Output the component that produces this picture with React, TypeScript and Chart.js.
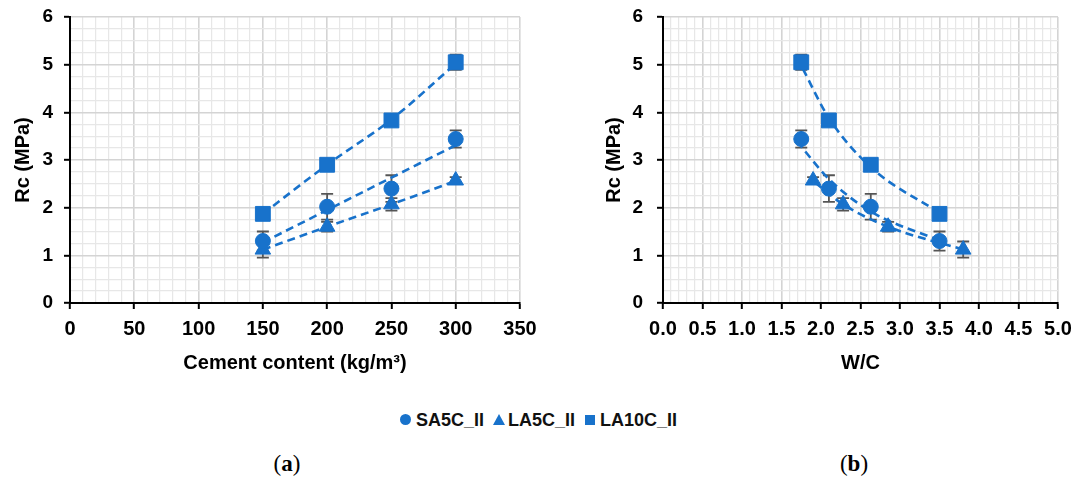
import React, { useEffect, useRef } from 'react';
import { Chart, registerables } from 'chart.js';

Chart.register(...registerables);

// ---- data ----
const cement = [150, 200, 250, 300];
const wcSA5C = [3.5, 2.63, 2.1, 1.75];
const wcLA5C = [3.8, 2.85, 2.28, 1.9];
const wcLA10C = [3.5, 2.63, 2.1, 1.75];

const rcSA5C = [1.3, 2.02, 2.4, 3.44];
const rcLA5C = [1.12, 1.6, 2.07, 2.57];
const rcLA10C = [1.87, 2.9, 3.83, 5.05];

const errSA5C = [0.2, 0.27, 0.28, 0.18];
const errLA5C = [0.17, 0.1, 0.13, 0.07];
const errLA10C = [0.08, 0.06, 0.06, 0.16];

// dashed trend lines
const trendSA5C_a = [1.27, 1.95, 2.63, 3.31];
const trendLA5C_a = [1.12, 1.6, 2.07, 2.56];
const trendLA10C_a = [1.87, 2.9, 3.85, 5.02];
const trendSA5C_b = [1.31, 1.92, 2.6, 3.28];
const trendLA5C_b = [1.12, 1.6, 2.07, 2.56];
const trendLA10C_b = [1.89, 2.85, 3.88, 4.98];

const seriesNames = ['SA5C_II', 'LA5C_II', 'LA10C_II'];

const xMajorA = [0, 50, 100, 150, 200, 250, 300, 350];
const xMajorB = [0, 0.5, 1, 1.5, 2, 2.5, 3, 3.5, 4, 4.5, 5];
const yMajor = [0, 1, 2, 3, 4, 5, 6];

// ---- style ----
const BLUE = '#1872cb';
const FONT = "'Liberation Sans', Arial, sans-serif";
const MAJOR = '#d4d4d4';
const MINOR = '#e7e7e7';

const near = (v: number, arr: number[]) => arr.some((m) => Math.abs(m - v) < 1e-6);
const pts = (xs: number[], ys: number[]) => xs.map((x, i) => ({ x, y: ys[i] }));

const errorBarPlugin = {
  id: 'errorBars',
  beforeDatasetsDraw(chart: any) {
    const ctx = chart.ctx;
    const ys = chart.scales.y;
    chart.data.datasets.forEach((ds: any, i: number) => {
      if (!ds.errors) return;
      const meta = chart.getDatasetMeta(i);
      ctx.save();
      ctx.strokeStyle = '#555555';
      ctx.lineWidth = 1.8;
      meta.data.forEach((pt: any, j: number) => {
        const v = ds.data[j].y;
        const e = ds.errors[j];
        const x = pt.x;
        const y1 = ys.getPixelForValue(v + e);
        const y2 = ys.getPixelForValue(v - e);
        ctx.beginPath();
        ctx.moveTo(x, y1);
        ctx.lineTo(x, y2);
        ctx.moveTo(x - 6, y1);
        ctx.lineTo(x + 6, y1);
        ctx.moveTo(x - 6, y2);
        ctx.lineTo(x + 6, y2);
        ctx.stroke();
      });
      ctx.restore();
    });
  },
};

function gridOpts(majors: number[]) {
  return {
    color: (c: any) => (c.tick && near(c.tick.value, majors) ? MAJOR : MINOR),
    lineWidth: (c: any) => (c.tick && near(c.tick.value, majors) ? 1.6 : 1.2),
    tickColor: (c: any) => (c.tick && near(c.tick.value, majors) ? '#000' : 'rgba(0,0,0,0)'),
    tickLength: 6,
    tickWidth: 2,
    drawTicks: true,
  };
}

function makeConfig(kind: 'a' | 'b') {
  const isA = kind === 'a';
  const xs = isA ? [cement, cement, cement] : [wcSA5C, wcLA5C, wcLA10C];
  const trends = isA ? [trendSA5C_a, trendLA5C_a, trendLA10C_a] : [trendSA5C_b, trendLA5C_b, trendLA10C_b];
  const vals = [rcSA5C, rcLA5C, rcLA10C];
  const errs = [errSA5C, errLA5C, errLA10C];
  const styles = ['circle', 'triangle', 'rect'];
  const radii = [7.5, 9, 10.5];

  const markerSets = vals.map((v, k) => ({
    label: seriesNames[k],
    data: pts(xs[k], v),
    errors: errs[k],
    showLine: false,
    pointStyle: styles[k],
    pointRadius: radii[k],
    pointBackgroundColor: BLUE,
    pointBorderColor: BLUE,
    pointBorderWidth: 1,
  }));
  const trendSets = trends.map((t, k) => ({
    label: seriesNames[k] + ' trend',
    data: pts(xs[k], t),
    showLine: true,
    pointRadius: 0,
    borderColor: BLUE,
    borderWidth: 2.6,
    borderDash: [8, 5],
    cubicInterpolationMode: 'monotone',
    fill: false,
  }));

  const tickFontX = { family: FONT, size: 20, weight: 'bold' };
  const tickFontY = { family: FONT, size: 19, weight: 'bold' };
  const titleFont = { family: FONT, size: 20, weight: 'bold' };
  const xMajors = isA ? xMajorA : xMajorB;

  return {
    type: 'scatter',
    data: { datasets: [...markerSets, ...trendSets] },
    options: {
      responsive: false,
      maintainAspectRatio: false,
      animation: false,
      devicePixelRatio: 1,
      layout: { autoPadding: false, padding: { left: 6, top: 17, right: isA ? 40 : 19, bottom: 0 } },
      plugins: { legend: { display: false }, tooltip: { enabled: false } },
      scales: {
        x: {
          type: 'linear',
          min: 0,
          max: isA ? 350 : 5,
          ticks: {
            stepSize: isA ? 10 : 0.1,
            autoSkip: false,
            maxRotation: 0,
            minRotation: 0,
            padding: 8,
            color: '#000',
            font: tickFontX,
            callback: (v: number) => (near(v, xMajors) ? (isA ? String(Math.round(v)) : v.toFixed(1)) : ''),
          },
          grid: gridOpts(xMajors),
          border: { color: '#000', width: 2 },
          title: {
            display: true,
            text: isA ? 'Cement content (kg/m³)' : 'W/C',
            color: '#000',
            font: titleFont,
            padding: { top: 0, bottom: 0 },
          },
          afterFit: (s: any) => {
            s.height = 72;
            s.paddingLeft = 0;
            s.paddingRight = 0;
          },
        },
        y: {
          type: 'linear',
          min: 0,
          max: 6,
          ticks: {
            stepSize: 0.25,
            autoSkip: false,
            padding: isA ? 11 : 14,
            color: '#000',
            font: tickFontY,
            callback: (v: number) => (near(v, yMajor) ? String(Math.round(v)) : ''),
          },
          grid: gridOpts(yMajor),
          border: { color: '#000', width: 2 },
          title: {
            display: true,
            text: 'Rc (MPa)',
            color: '#000',
            font: titleFont,
            padding: { top: isA ? 5 : 3, bottom: 0 },
          },
          afterFit: (s: any) => {
            s.width = 64;
            s.paddingTop = 0;
            s.paddingBottom = 0;
          },
        },
      },
    },
    plugins: [errorBarPlugin],
  };
}

function ChartBox({ kind, left, width, height }: { kind: 'a' | 'b'; left: number; width: number; height: number }) {
  const ref = useRef<HTMLCanvasElement | null>(null);
  useEffect(() => {
    const chart = new Chart(ref.current as HTMLCanvasElement, makeConfig(kind) as any);
    return () => chart.destroy();
  }, [kind]);
  return (
    <canvas
      ref={ref}
      width={width}
      height={height}
      style={{ position: 'absolute', left, top: 0, width, height }}
    />
  );
}

const legendText: React.CSSProperties = {
  fontFamily: FONT,
  fontWeight: 'bold',
  fontSize: 18,
  color: '#111',
  position: 'absolute',
  top: 408,
  lineHeight: '24px',
  whiteSpace: 'nowrap',
};

const captionStyle: React.CSSProperties = {
  position: 'absolute',
  width: 100,
  top: 451,
  textAlign: 'center',
  fontFamily: "'Liberation Serif', 'DejaVu Serif', serif",
  fontSize: 23,
  color: '#000',
};

export default function App() {
  return (
    <div style={{ position: 'absolute', left: 0, top: 0, width: 1077, height: 484, background: '#fff', overflow: 'hidden' }}>
      <ChartBox kind="a" left={0} width={560} height={375} />
      <ChartBox kind="b" left={593} width={484} height={375} />

      {/* shared legend */}
      <div style={{ position: 'absolute', left: 400, top: 414, width: 11, height: 11, borderRadius: '50%', background: BLUE }} />
      <div style={{ ...legendText, left: 416 }}>{seriesNames[0]}</div>
      <div
        style={{
          position: 'absolute',
          left: 493,
          top: 414,
          width: 0,
          height: 0,
          borderLeft: '6px solid transparent',
          borderRight: '6px solid transparent',
          borderBottom: `11px solid ${BLUE}`,
        }}
      />
      <div style={{ ...legendText, left: 508 }}>{seriesNames[1]}</div>
      <div style={{ position: 'absolute', left: 585, top: 415, width: 10, height: 10, background: BLUE }} />
      <div style={{ ...legendText, left: 600 }}>{seriesNames[2]}</div>

      {/* captions */}
      <div style={{ ...captionStyle, left: 237 }}>
        (<b>a</b>)
      </div>
      <div style={{ ...captionStyle, left: 804 }}>
        (<b>b</b>)
      </div>
    </div>
  );
}
